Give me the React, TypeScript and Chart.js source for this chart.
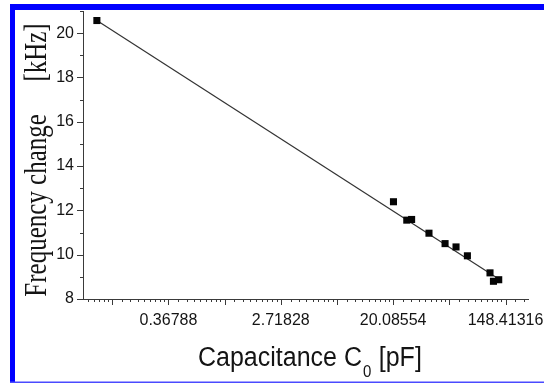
import React, { useEffect, useRef } from 'react';
import { Chart, registerables } from 'chart.js';

Chart.register(...registerables);

const W = 544;
const H = 383;

// Measured data (capacitance in pF, frequency change in kHz)
const capacitance = [0.103, 20.2, 25.6, 27.9, 38.0, 50.6, 61.5, 75.3, 112.6, 119.7, 131.5];
const freqChange = [20.57, 12.39, 11.56, 11.59, 10.97, 10.5, 10.35, 9.95, 9.18, 8.8, 8.87];

// Linear fit (in ln C) end points
const fitCapacitance = [0.103, 131.5];
const fitFrequency = [20.57, 8.9];

// Axis ticks
const xLabelExponents = [-1, 1, 3, 5];
const xTickLabels = ['0.36788', '2.71828', '20.08554', '148.41316'];
const xMajorExponents = [-3, -2, -1, 0, 1, 2, 3, 4, 5];
const yMajorTicks = [8, 10, 12, 14, 16, 18, 20];
const yMinorTicks = [9, 11, 13, 15, 17, 19, 21];

const X_MIN = Math.exp(-2.52);
const X_MAX = Math.exp(5.4);

const SANS = '"Liberation Sans", Arial, sans-serif';
const SERIF = '"Liberation Serif", "Times New Roman", serif';
const AXIS = '#3a3a3a';
const TEXT = '#141414';

const decor = {
  id: 'decor',
  beforeDraw(chart: any) {
    const ctx = chart.ctx as CanvasRenderingContext2D;
    ctx.save();
    ctx.fillStyle = '#ffffff';
    ctx.fillRect(0, 0, W, H);
    ctx.fillStyle = '#0000ff';
    ctx.fillRect(10, 4, W - 10, 6);
    ctx.fillRect(10, 4, 5, H - 4);
    ctx.fillStyle = '#4a4aff';
    ctx.fillRect(10, 381.5, W - 10, 1.5);
    ctx.restore();
  },
  afterDraw(chart: any) {
    const ctx = chart.ctx as CanvasRenderingContext2D;
    const xs = chart.scales.x;
    const ys = chart.scales.y;
    const area = chart.chartArea;
    ctx.save();
    ctx.strokeStyle = AXIS;
    ctx.lineWidth = 1;
    // y ticks
    const yTick = (v: number, len: number) => {
      const p = Math.round(ys.getPixelForValue(v)) + 0.5;
      ctx.beginPath();
      ctx.moveTo(area.left, p);
      ctx.lineTo(area.left - len, p);
      ctx.stroke();
    };
    yMajorTicks.forEach((v) => yTick(v, 6));
    yMinorTicks.forEach((v) => yTick(v, 3));
    // x ticks
    const xTick = (v: number, len: number) => {
      if (v < X_MIN || v > X_MAX) return;
      const p = Math.round(xs.getPixelForValue(v)) + 0.5;
      ctx.beginPath();
      ctx.moveTo(p, area.bottom);
      ctx.lineTo(p, area.bottom + len);
      ctx.stroke();
    };
    xMajorExponents.forEach((n) => {
      const a = Math.exp(n);
      const b = Math.exp(n + 1);
      xTick(a, 6);
      for (let k = 1; k <= 8; k++) xTick(a + (k * (b - a)) / 9, 3);
    });

    // y title (serif, rotated)
    ctx.fillStyle = TEXT;
    ctx.save();
    ctx.translate(46, 296.7);
    ctx.rotate(-Math.PI / 2);
    ctx.scale(1, 1.3);
    ctx.font = `25px ${SERIF}`;
    ctx.textBaseline = 'alphabetic';
    ctx.textAlign = 'left';
    ctx.fillText('Frequency change', 0, 0);
    ctx.textAlign = 'right';
    ctx.fillText('[kHz]', 273.4, 0);
    ctx.restore();

    // x title with subscript
    ctx.save();
    ctx.translate(198, 366);
    ctx.scale(1, 1.08);
    ctx.textBaseline = 'alphabetic';
    ctx.textAlign = 'left';
    ctx.font = `25px ${SANS}`;
    const t1 = 'Capacitance C';
    ctx.fillText(t1, 0, 0);
    let x = ctx.measureText(t1).width + 1;
    ctx.font = `15px ${SANS}`;
    ctx.fillText('0', x, 10.5);
    x += ctx.measureText('0').width + 0.5;
    ctx.font = `25px ${SANS}`;
    ctx.fillText(' [pF]', x, 0);
    ctx.restore();

    ctx.restore();
  },
};

export default function App() {
  const ref = useRef<HTMLCanvasElement>(null);

  useEffect(() => {
    const canvas = ref.current;
    if (!canvas) return;
    const points = capacitance.map((c, i) => ({ x: c, y: freqChange[i] }));
    const fit = fitCapacitance.map((c, i) => ({ x: c, y: fitFrequency[i] }));
    const chart = new Chart(canvas, {
      type: 'scatter',
      data: {
        datasets: [
          {
            label: 'fit',
            data: fit,
            showLine: true,
            borderColor: '#333333',
            borderWidth: 1.2,
            pointRadius: 0,
            fill: false,
            order: 2,
          },
          {
            label: 'data',
            data: points,
            showLine: false,
            pointStyle: 'rect',
            pointRadius: 5,
            backgroundColor: '#050505',
            borderColor: '#050505',
            borderWidth: 0,
            order: 1,
          },
        ],
      },
      options: {
        responsive: false,
        animation: false,
        devicePixelRatio: 1,
        layout: { padding: { left: 0, top: 11, right: 16, bottom: 0 } },
        plugins: {
          legend: { display: false },
          tooltip: { enabled: false },
        },
        scales: {
          x: {
            type: 'logarithmic',
            position: 'bottom',
            min: X_MIN,
            max: X_MAX,
            grid: { display: false, drawTicks: false },
            border: { display: true, color: AXIS, width: 1 },
            ticks: {
              autoSkip: false,
              maxRotation: 0,
              minRotation: 0,
              padding: 12,
              color: TEXT,
              font: { family: SANS, size: 16 },
              callback: (value: any) => {
                const v = Number(value);
                const i = xLabelExponents.findIndex((n) => Math.abs(Math.log(v) - n) < 1e-6);
                return i >= 0 ? xTickLabels[i] : '';
              },
            },
            afterBuildTicks: (scale: any) => {
              scale.ticks = xLabelExponents.map((n) => ({ value: Math.exp(n) }));
            },
            afterFit: (scale: any) => {
              scale.height = 84;
              scale.paddingLeft = 0;
              scale.paddingRight = 0;
              scale.paddingTop = 0;
              scale.paddingBottom = 0;
            },
          },
          y: {
            type: 'linear',
            min: 8,
            max: 21,
            grid: { display: false, drawTicks: false },
            border: { display: true, color: AXIS, width: 1 },
            ticks: {
              padding: 9,
              color: TEXT,
              font: { family: SANS, size: 16 },
              callback: (value: any) => String(value),
            },
            afterBuildTicks: (scale: any) => {
              scale.ticks = yMajorTicks.map((v) => ({ value: v }));
            },
            afterFit: (scale: any) => {
              scale.width = 83;
              scale.paddingLeft = 0;
              scale.paddingRight = 0;
              scale.paddingTop = 0;
              scale.paddingBottom = 0;
            },
          },
        },
      },
      plugins: [decor],
    } as any);
    return () => chart.destroy();
  }, []);

  return (
    <div style={{ position: 'fixed', left: 0, top: 0, width: W, height: H, background: '#fff' }}>
      <canvas ref={ref} width={W} height={H} style={{ display: 'block', width: W, height: H }} />
    </div>
  );
}
